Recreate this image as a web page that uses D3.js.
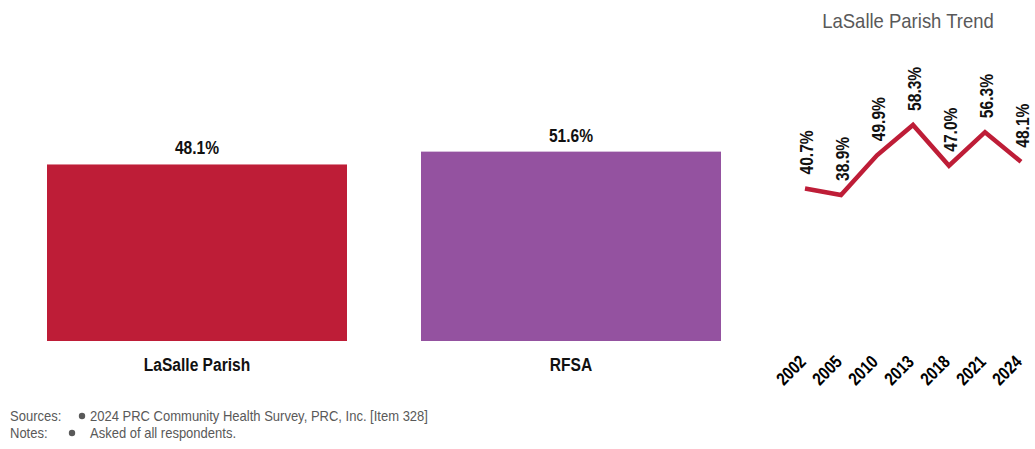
<!DOCTYPE html>
<html>
<head>
<meta charset="utf-8">
<script src="https://cdn.jsdelivr.net/npm/d3@7"></script>
<style>
  body { margin: 0; background: #fff; }
  svg { display: block; font-family: "Liberation Sans", Arial, sans-serif; }
</style>
</head>
<body>
<svg width="1035" height="449"></svg>
<script>
const areas = ["LaSalle Parish", "RFSA"]
const areaValues = [48.1, 51.6]
const areaColors = ["#be1d37", "#9452a0"]

const years = ["2002", "2005", "2010", "2013", "2018", "2021", "2024"]
const trendValues = [40.7, 38.9, 49.9, 58.3, 47.0, 56.3, 48.1]

const sources = ["2024 PRC Community Health Survey, PRC, Inc. [Item 328]"]
const notes = ["Asked of all respondents."]

const svg = d3.select("svg")
const fmt = d => d3.format(".1f")(d) + "%"
// no narrow font installed, so squeeze the text horizontally
const narrow = 0.82

// main bars
const x = d3.scaleBand()
    .domain(areas)
    .range([47, 721])
    .paddingInner(74 / 374)
    .paddingOuter(0)

const y = d3.scaleLinear()
    .domain([0, 100])
    .range([341, -26])

const bars = svg.append("g")

bars.selectAll("rect")
    .data(areas)
    .enter()
    .append("rect")
    .attr("x", d => x(d))
    .attr("width", x.bandwidth())
    .attr("y", (d, i) => y(areaValues[i]))
    .attr("height", (d, i) => y(0) - y(areaValues[i]))
    .style("fill", (d, i) => areaColors[i])

bars.selectAll("text.value")
    .data(areas)
    .enter()
    .append("text")
    .attr("class", "value")
    .attr("transform", (d, i) => `translate(${x(d) + x.bandwidth() / 2},${y(areaValues[i]) - 10}) scale(${narrow},1)`)
    .attr("text-anchor", "middle")
    .style("font-size", "19px")
    .style("font-weight", "bold")
    .style("fill", "#111")
    .text((d, i) => fmt(areaValues[i]))

bars.selectAll("text.cat")
    .data(areas)
    .enter()
    .append("text")
    .attr("class", "cat")
    .attr("transform", d => `translate(${x(d) + x.bandwidth() / 2},371) scale(${narrow},1)`)
    .attr("text-anchor", "middle")
    .style("font-size", "19px")
    .style("font-weight", "bold")
    .style("fill", "#111")
    .text(d => d)

// trend
const trend = svg.append("g")

trend.append("text")
    .attr("transform", "translate(908,28) scale(0.925,1)")
    .attr("text-anchor", "middle")
    .style("font-size", "20px")
    .style("fill", "#595959")
    .text("LaSalle Parish Trend")

const tx = d3.scalePoint()
    .domain(years)
    .range([805, 1021])

const ty = d3.scaleLinear()
    .domain([0, 100])
    .range([335.4, -25.6])

const line = d3.line()
    .x((d, i) => tx(years[i]))
    .y(d => ty(d))

trend.append("path")
    .datum(trendValues)
    .attr("d", line)
    .style("fill", "none")
    .style("stroke", areaColors[0])
    .style("stroke-width", 4.5)
    .style("stroke-linejoin", "miter")

trend.selectAll("text.tv")
    .data(trendValues)
    .enter()
    .append("text")
    .attr("class", "tv")
    .attr("transform", (d, i) => `translate(${tx(years[i]) + 8},${ty(d) - 14}) rotate(-90) scale(${narrow},1)`)
    .style("font-size", "19px")
    .style("font-weight", "bold")
    .style("fill", "#111")
    .text(d => fmt(d))

trend.selectAll("text.yr")
    .data(years)
    .enter()
    .append("text")
    .attr("class", "yr")
    .attr("text-anchor", "end")
    .attr("transform", d => `translate(${tx(d) + 2},363) rotate(-45) scale(${narrow},1)`)
    .style("font-size", "18px")
    .style("font-weight", "bold")
    .style("fill", "#000")
    .text(d => d)

// footer
const foot = svg.append("g")
    .style("font-size", "14px")
    .style("fill", "#595959")

const rows = [["Sources:", sources, 82], ["Notes:", notes, 72]]
rows.forEach((r, i) => {
    const yy = 421 + i * 17
    foot.append("text").attr("transform", `translate(10,${yy}) scale(0.93,1)`).text(r[0])
    foot.append("circle").attr("cx", r[2]).attr("cy", yy - 5).attr("r", 3.2).style("fill", "#595959")
    foot.append("text").attr("transform", `translate(90,${yy}) scale(0.93,1)`).text(r[1][0])
})
</script>
</body>
</html>
